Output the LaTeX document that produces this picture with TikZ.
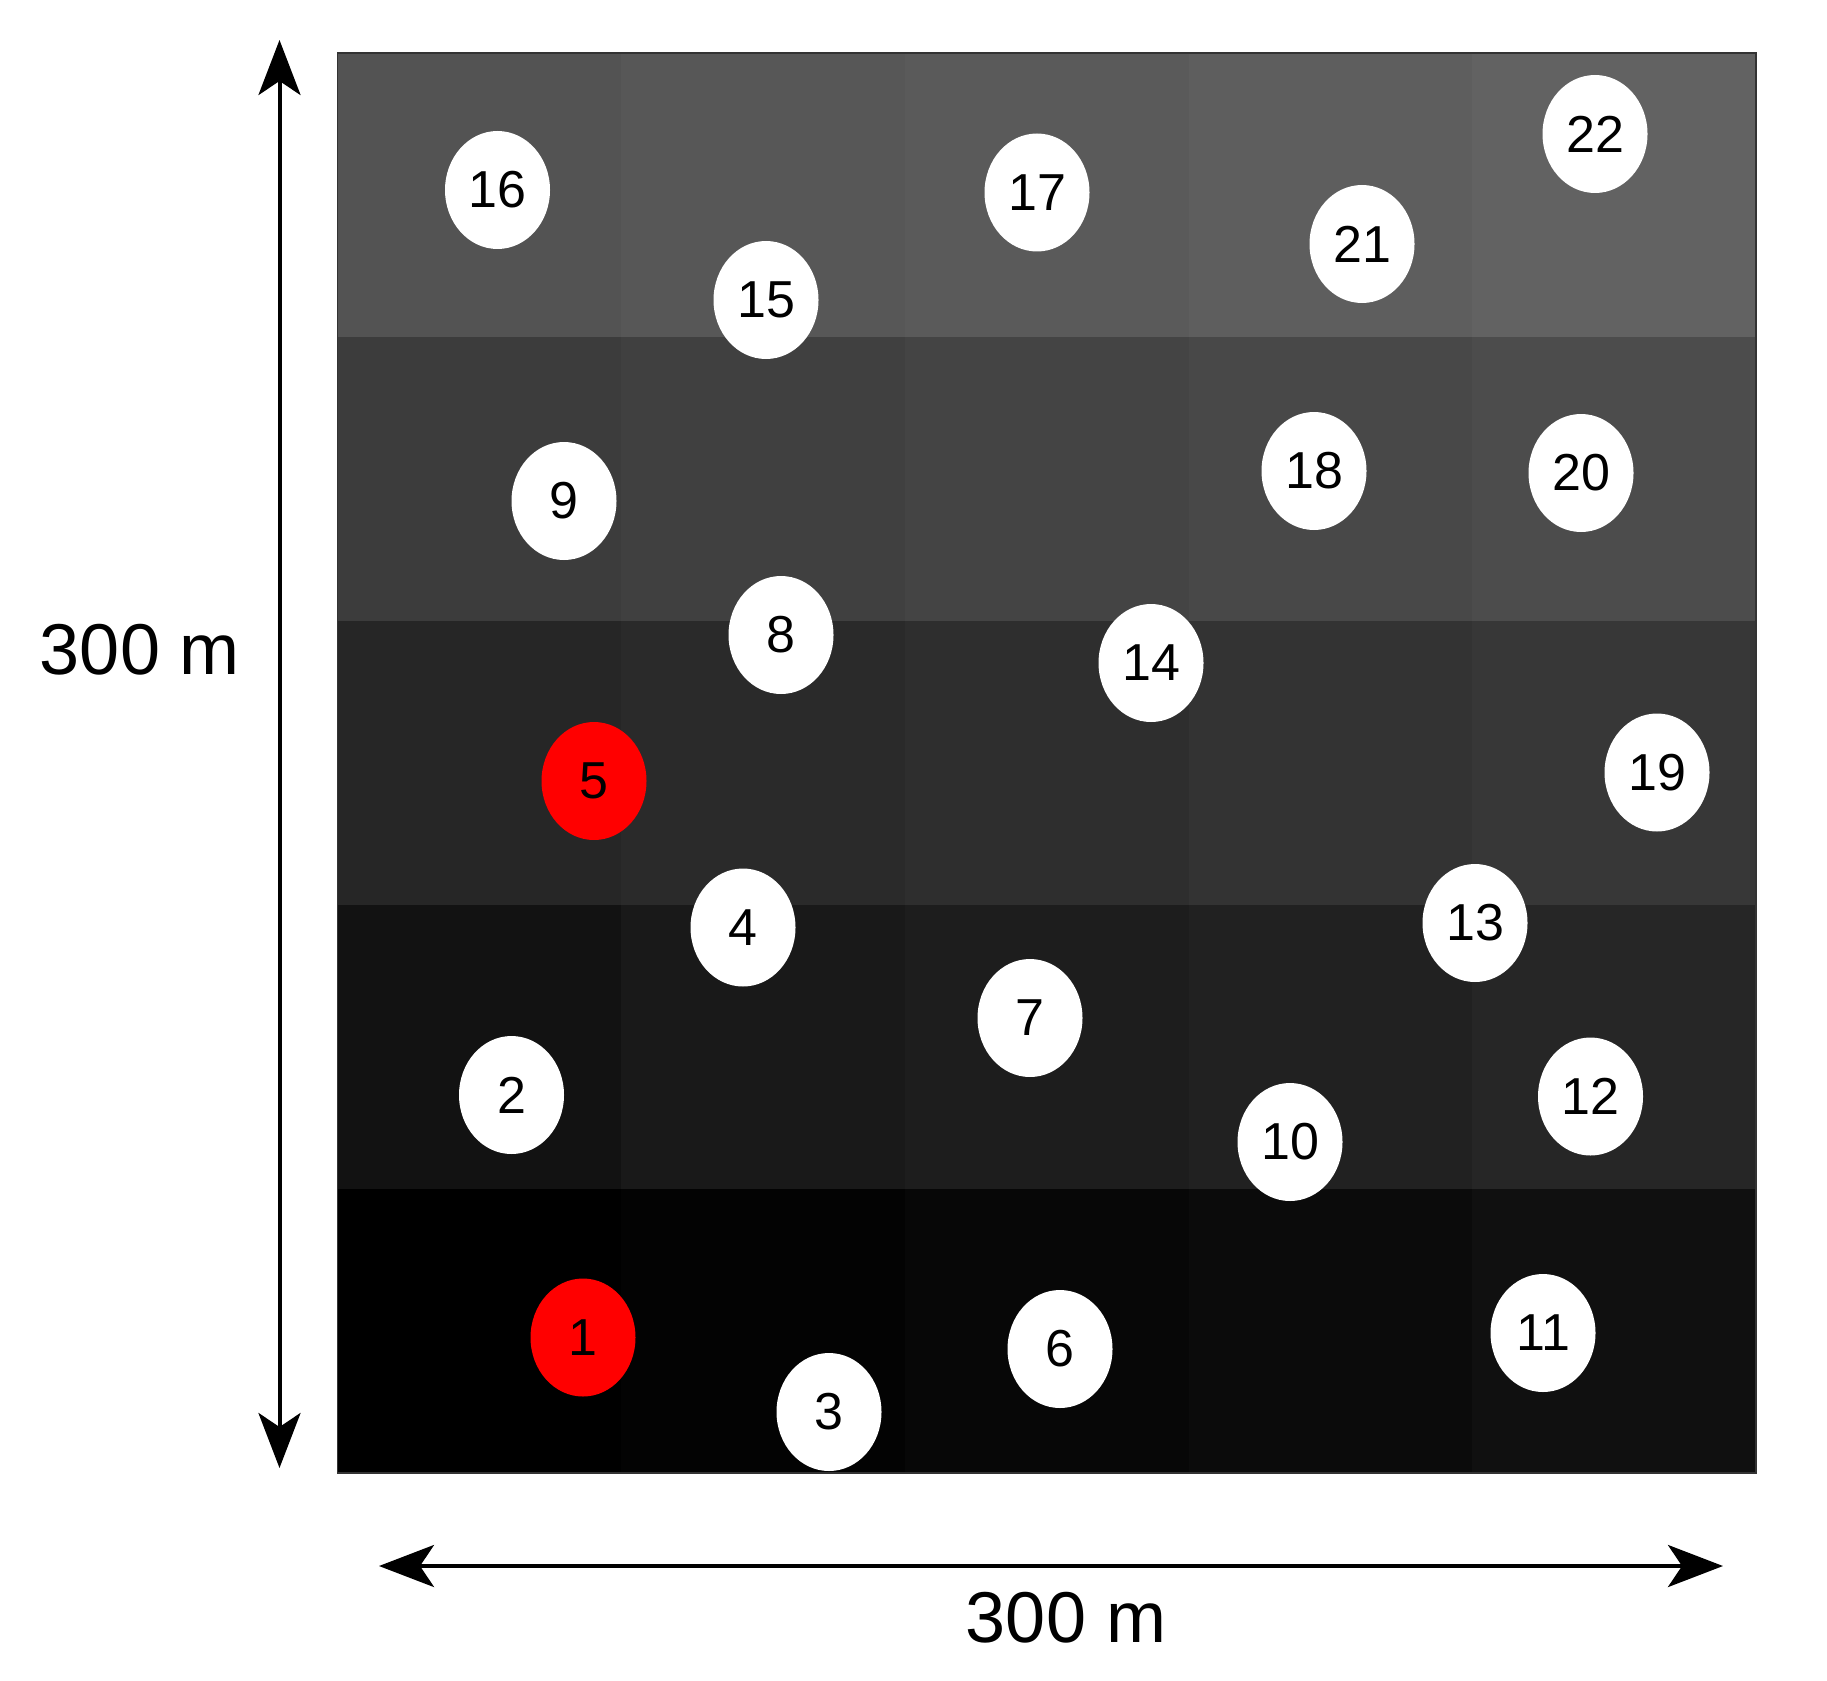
\documentclass[tikz,border=0pt]{standalone}
\usepackage{fontspec}
\setmainfont{Liberation Sans}
\usetikzlibrary{shapes.geometric,arrows.meta}
\tikzset{
  site/.style={ellipse, fill=white, minimum width=105pt, minimum height=118pt, inner sep=0pt, font=\fontsize{52}{52}\selectfont},
  hub/.style={site, fill=red},
  dimarrow/.style={line width=4pt, {Stealth[length=55pt,width=42pt,inset=14pt]}-{Stealth[length=55pt,width=42pt,inset=14pt]}},
  dimlabel/.style={inner sep=0pt, font=\fontsize{72}{72}\selectfont},
  frame/.style={draw=black!80, line width=1.5pt}
}
\begin{document}
\begin{tikzpicture}[x=1pt,y=-1pt]
\useasboundingbox (0,0) rectangle (1827,1680);
\fill[white] (0,0) rectangle (1827,1680);
% grid cells
\foreach \hex [count=\i from 0] in {
  535353,575757,5A5A5A,5E5E5E,626262,
  3C3C3C,404040,444444,484848,4C4C4C,
  262626,2A2A2A,2E2E2E,333333,373737,
  121212,191919,1D1D1D,212121,262626,
  000000,030303,070707,0B0B0B,101010}{
  \pgfmathtruncatemacro\cc{mod(\i,5)}
  \pgfmathtruncatemacro\rr{div(\i,5)}
  \definecolor{cellc}{HTML}{\hex}
  \fill[cellc] (337.5+\cc*283.7, 53+\rr*284) rectangle ++(283.8,284.1);
}
\draw[frame] (337.5,53) rectangle (1756,1473);
% sites
\node[site] (n16) at (497.5,190) {16};
\node[site] (n15) at (766,300) {15};
\node[site] (n17) at (1037,192.5) {17};
\node[site] (n21) at (1362,244) {21};
\node[site] (n22) at (1595,134) {22};
\node[site] (n9)  at (564,501) {9};
\node[site] (n18) at (1314,471) {18};
\node[site] (n20) at (1581,473) {20};
\node[site] (n8)  at (781,635) {8};
\node[site] (n14) at (1151,663) {14};
\node[hub]  (n5)  at (594,781) {5};
\node[site] (n19) at (1657,772.5) {19};
\node[site] (n4)  at (743,927.5) {4};
\node[site] (n13) at (1475,923) {13};
\node[site] (n7)  at (1030,1018) {7};
\node[site] (n2)  at (511.5,1095) {2};
\node[site] (n10) at (1290,1142) {10};
\node[site] (n12) at (1590.5,1096.5) {12};
\node[hub]  (n1)  at (583,1337.5) {1};
\node[site] (n6)  at (1060,1349) {6};
\node[site] (n3)  at (829,1412) {3};
\node[site] (n11) at (1543,1333) {11};
% dimension arrows
\coordinate (vtop) at (279.5,40);
\coordinate (vbot) at (279.5,1468);
\coordinate (hleft) at (379,1566);
\coordinate (hright) at (1723,1566);
\draw[dimarrow] (vbot) -- (vtop);
\draw[dimarrow] (hleft) -- (hright);
\node[dimlabel] (lv) at (140,650) {300 m};
\node[dimlabel] (lh) at (1066,1618) {300 m};
\end{tikzpicture}
\end{document}
